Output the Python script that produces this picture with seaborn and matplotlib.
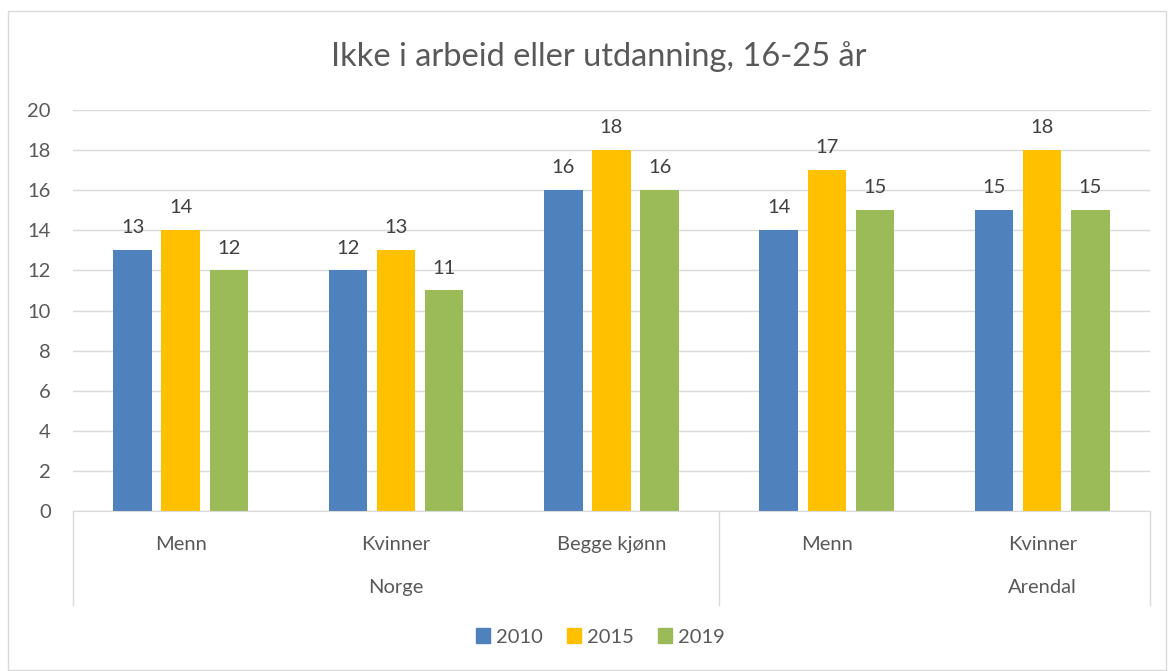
import pandas as pd
import seaborn as sns
import matplotlib.pyplot as plt
from matplotlib.patches import Patch, Rectangle

# data
regions = ['Norge', 'Norge', 'Norge', 'Arendal', 'Arendal']
groups = ['Menn', 'Kvinner', 'Begge kjønn', 'Menn', 'Kvinner']
years = ['2010', '2015', '2019']
v2010 = [13, 12, 16, 14, 15]
v2015 = [14, 13, 18, 17, 18]
v2019 = [12, 11, 16, 15, 15]

colors = ['#4F81BD', '#FFC000', '#9BBB59']
txt = '#595959'
fs = 14.5

keys = [r + '|' + g for r, g in zip(regions, groups)]
rows = []
for yr, vals in zip(years, [v2010, v2015, v2019]):
    for k, v in zip(keys, vals):
        rows.append({'key': k, 'year': yr, 'value': v})
df = pd.DataFrame(rows)

sns.set_style('white')
plt.rcParams['font.family'] = ['Lato', 'DejaVu Sans']

fig = plt.figure(figsize=(11.68, 6.71), dpi=100)
ax = fig.add_axes([0.0625, 0.2385, 0.922, 0.5975])

sns.barplot(data=df, x='key', y='value', hue='year', order=keys, hue_order=years,
            palette=colors, width=0.67, gap=0.2, ax=ax, legend=False,
            linewidth=0, saturation=1)

for c in ax.containers:
    ax.bar_label(c, padding=10, fontsize=fs, color='#404040')

ax.set_ylim(0, 20)
ax.set_xlim(-0.5, 4.5)
ax.set_yticks(range(0, 21, 2))
ax.yaxis.grid(True, color='#D9D9D9', linewidth=1)
ax.set_axisbelow(True)
for s in ['top', 'right', 'left']:
    ax.spines[s].set_visible(False)
ax.spines['bottom'].set_color('#D9D9D9')
ax.set_xlabel('')
ax.set_ylabel('')
ax.set_xticks(range(len(groups)))
ax.set_xticklabels(groups)
ax.tick_params(axis='x', length=0, pad=18, labelsize=fs, labelcolor=txt)
ax.tick_params(axis='y', length=0, pad=16, labelsize=fs, labelcolor=txt)

# two-level category axis
tr = ax.get_xaxis_transform()
for x in [-0.5, 2.5, 4.5]:
    ax.plot([x, x], [0, -0.234], transform=tr, color='#D9D9D9', lw=1, clip_on=False)
ax.text(1, -0.19, 'Norge', transform=tr, ha='center', va='center', fontsize=fs, color=txt)
ax.text(4, -0.19, 'Arendal', transform=tr, ha='center', va='center', fontsize=fs, color=txt)

fig.text(0.513, 1 - 57 / 671, 'Ikke i arbeid eller utdanning, 16-25 år', ha='center', va='center',
         fontsize=23.5, color=txt)

handles = [Patch(color=c, label=y) for c, y in zip(colors, years)]
fig.legend(handles=handles, loc='center', bbox_to_anchor=(0.514, 1 - 637 / 671), ncol=3,
           frameon=False, fontsize=fs, handlelength=0.7, handleheight=0.7,
           handletextpad=0.3, columnspacing=1.2, labelcolor=txt)

fig.patches.append(Rectangle((8 / 1168, 0.002), 1 - 10 / 1168, 1 - 12 / 671, transform=fig.transFigure,
                             fill=False, edgecolor='#D9D9D9', lw=1))

fig.savefig('out.png', dpi=100)
